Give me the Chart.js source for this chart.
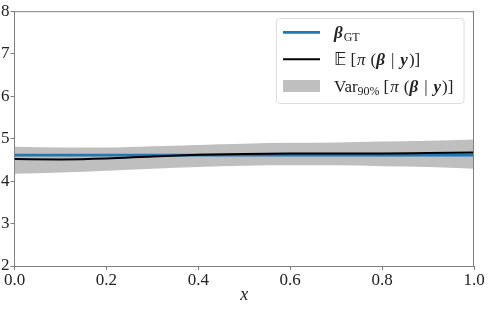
<!DOCTYPE html>
<html><head><meta charset="utf-8">
<script src="https://cdn.jsdelivr.net/npm/chart.js@4.4.1/dist/chart.umd.min.js"></script>
<style>html,body{margin:0;padding:0;background:#fff;}canvas{display:block;}</style>
</head><body>
<canvas id="c" width="488" height="309"></canvas>
<script>
const xs = [0, 0.1, 0.2, 0.3, 0.4, 0.5, 0.6, 0.7, 0.8, 0.9, 1.0];
const betaGT = [4.61, 4.61, 4.61, 4.61, 4.61, 4.61, 4.61, 4.61, 4.61, 4.61, 4.61];
const meanPost = [4.52, 4.51, 4.53, 4.58, 4.62, 4.64, 4.65, 4.65, 4.65, 4.66, 4.67];
const bandUpper = [4.81, 4.79, 4.79, 4.82, 4.85, 4.88, 4.90, 4.91, 4.93, 4.95, 4.98];
const bandLower = [4.17, 4.20, 4.24, 4.29, 4.33, 4.36, 4.37, 4.37, 4.35, 4.33, 4.29];
const xTicks = [0, 0.2, 0.4, 0.6, 0.8, 1.0];
const yTicks = [2, 3, 4, 5, 6, 7, 8];

const pts = arr => xs.map((x, i) => ({x: x, y: arr[i]}));
const SERIF = '"Liberation Serif", "DejaVu Serif", serif';
const GRAY = '#808080';

const framePlugin = {
  id: 'frame',
  afterDatasetsDraw(chart) {
    const {ctx, chartArea: a} = chart;
    ctx.save();
    ctx.strokeStyle = GRAY; ctx.lineWidth = 1;
    ctx.beginPath();
    ctx.moveTo(a.left, a.top + 0.5); ctx.lineTo(a.right, a.top + 0.5);
    ctx.moveTo(a.right - 0.5, a.top); ctx.lineTo(a.right - 0.5, a.bottom);
    ctx.stroke();
    ctx.restore();
  }
};

function drawRuns(ctx, x, y, runs) {
  for (const r of runs) {
    ctx.font = r.font;
    ctx.fillText(r.t, x, y + (r.dy || 0));
    x += ctx.measureText(r.t).width + (r.sp || 0);
  }
  return x;
}

const legendPlugin = {
  id: 'mathLegend',
  afterDraw(chart) {
    const ctx = chart.ctx;
    ctx.save();
    const bx = 276.5, by = 18.5, bw = 187.5, bh = 85, r = 3;
    ctx.beginPath();
    ctx.moveTo(bx + r, by); ctx.lineTo(bx + bw - r, by); ctx.quadraticCurveTo(bx + bw, by, bx + bw, by + r);
    ctx.lineTo(bx + bw, by + bh - r); ctx.quadraticCurveTo(bx + bw, by + bh, bx + bw - r, by + bh);
    ctx.lineTo(bx + r, by + bh); ctx.quadraticCurveTo(bx, by + bh, bx, by + bh - r);
    ctx.lineTo(bx, by + r); ctx.quadraticCurveTo(bx, by, bx + r, by);
    ctx.closePath();
    ctx.fillStyle = 'rgba(255,255,255,0.85)'; ctx.fill();
    ctx.strokeStyle = '#dcdcdc'; ctx.lineWidth = 1; ctx.stroke();

    const hx0 = 283, hx1 = 320;
    ctx.lineCap = 'butt';
    ctx.strokeStyle = '#1f77b4'; ctx.lineWidth = 2.8;
    ctx.beginPath(); ctx.moveTo(hx0, 32.3); ctx.lineTo(hx1, 32.3); ctx.stroke();
    ctx.strokeStyle = '#000'; ctx.lineWidth = 2;
    ctx.beginPath(); ctx.moveTo(hx0, 59.3); ctx.lineTo(hx1, 59.3); ctx.stroke();
    ctx.fillStyle = '#bfbfbf';
    ctx.fillRect(hx0, 80, hx1 - hx0, 12);

    ctx.fillStyle = '#222';
    ctx.textBaseline = 'alphabetic';
    ctx.textAlign = 'left';
    const R = '17px ' + SERIF, BI = 'bold italic 17px ' + SERIF, S = '12px ' + SERIF, I = 'italic 17px ' + SERIF;
    const tx = 334;
    drawRuns(ctx, tx, 38, [{t: 'β', font: BI, sp: 1}, {t: 'GT', font: S, dy: 3}]);
    const post = [
      {t: '[', font: R, sp: 1}, {t: 'π', font: I, sp: 5}, {t: '(', font: R, sp: 0},
      {t: 'β', font: BI, sp: 6}, {t: '|', font: R, sp: 6}, {t: 'y', font: BI, sp: 1}, {t: ')]', font: R}
    ];
    drawRuns(ctx, tx, 65, [{t: '𝔼', font: '17px "DejaVu Sans", ' + SERIF, sp: 4}].concat(post));
    drawRuns(ctx, tx, 92, [{t: 'Var', font: R}, {t: '90%', font: S, dy: 3, sp: 4}].concat(post));
    ctx.restore();
  }
};

new Chart(document.getElementById('c'), {
  type: 'line',
  data: {
    datasets: [
      {label: 'lower', data: pts(bandLower), borderWidth: 0, pointRadius: 0, fill: false, tension: 0.4, cubicInterpolationMode: 'monotone', order: 3},
      {label: 'upper', data: pts(bandUpper), borderWidth: 0, pointRadius: 0, fill: '-1', backgroundColor: '#bfbfbf', tension: 0.4, cubicInterpolationMode: 'monotone', order: 3},
      {label: 'betaGT', data: pts(betaGT), borderColor: '#1f77b4', borderWidth: 2.8, pointRadius: 0, fill: false, order: 2},
      {label: 'mean', data: pts(meanPost), borderColor: '#000', borderWidth: 2, pointRadius: 0, fill: false, cubicInterpolationMode: 'monotone', order: 1}
    ]
  },
  options: {
    responsive: false,
    animation: false,
    devicePixelRatio: 1,
    layout: {padding: {left: 0, right: 14, top: 10, bottom: 0}},
    plugins: {legend: {display: false}, tooltip: {enabled: false}},
    scales: {
      x: {
        type: 'linear', min: 0, max: 1,
        afterBuildTicks: s => { s.ticks = xTicks.map(v => ({value: v})); },
        afterFit: s => { s.height = 43; },
        ticks: {callback: v => v.toFixed(1), color: '#222', font: {family: SERIF, size: 17, lineHeight: 1.0}, padding: 2, maxRotation: 0},
        grid: {display: true, drawOnChartArea: false, tickLength: 4, color: GRAY},
        border: {color: GRAY, width: 1},
        title: {display: true, text: 'x', color: '#222', font: {family: SERIF, size: 18, style: 'italic', lineHeight: 1.0}, padding: {top: 0, bottom: 5}}
      },
      y: {
        type: 'linear', min: 2, max: 8,
        afterBuildTicks: s => { s.ticks = yTicks.map(v => ({value: v})); },
        ticks: {callback: v => String(v), color: '#222', font: {family: SERIF, size: 17}, padding: 1},
        grid: {display: true, drawOnChartArea: false, tickLength: 4, color: GRAY},
        border: {color: GRAY, width: 1}
      }
    }
  },
  plugins: [framePlugin, legendPlugin]
});
</script>
</body></html>
